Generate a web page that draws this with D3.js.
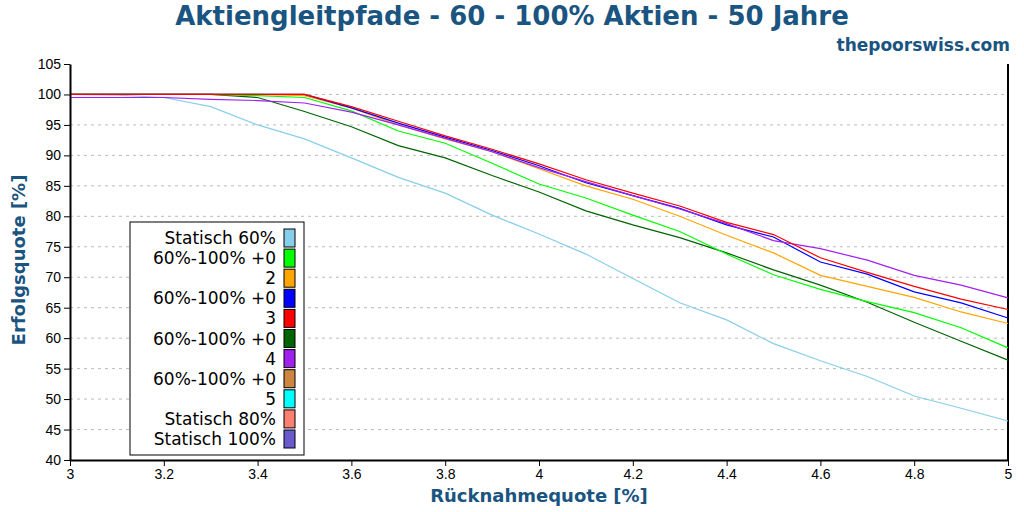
<!DOCTYPE html><html><head><meta charset="utf-8"><script src="https://cdn.jsdelivr.net/npm/d3@7"></script>
<style>body{margin:0;background:#fff}svg{font-family:"DejaVu Sans",sans-serif}</style></head><body><svg id="c" width="1024" height="512"></svg><script>
const xs=[3.0,3.1,3.2,3.3,3.4,3.5,3.6,3.7,3.8,3.9,4.0,4.1,4.2,4.3,4.4,4.5,4.6,4.7,4.8,4.9,5.0];
const s60=[100,99.9,99.5,98,95,92.7,89.6,86.4,83.8,80.2,77.1,73.8,69.8,65.8,63,59.1,56.3,53.7,50.5,48.5,46.4];
const sGreen=[100,100,100,100,99.8,99.5,97.3,94,92,88.7,85.3,83,80.2,77.5,73.8,70.4,68,66,64.2,61.7,58.4];
const sOrange=[100,100,100,100,100,99.8,97.8,95,92.7,90.6,87.8,85,82.8,80,76.9,74,70.3,68.5,66.7,64.3,62.4];
const sBlue=[100,100,100,100,100,100,97.8,95.3,93,90.8,88.3,85.5,83.4,81.3,78.6,76.6,72.5,70.5,67.6,65.8,63.3];
const sRed=[100,100,100,100,100,100,98,95.6,93.2,91,88.6,86,83.8,81.7,79,77,73.2,70.8,68.5,66.4,64.7];
const sDark=[100,100,100,100,99.5,97.2,94.7,91.6,89.6,86.7,84,80.9,78.6,76.5,74,71.2,68.7,65.9,62.6,59.5,56.4];
const sPurple=[99.5,99.5,99.5,99.2,99,98.6,97.1,95,92.8,90.6,88,85.7,83.4,81.2,78.8,76,74.7,72.8,70.3,68.7,66.6];
const lines=[[s60,"#87ceeb"],[sDark,"#006400"],[sGreen,"#00ff00"],[sOrange,"#ffa500"],[sBlue,"#0000ff"],[sPurple,"#a020f0"],[sRed,"#ff0000"]];
const legendLabels=["Statisch 60%","60%-100% +0","2","60%-100% +0","3","60%-100% +0","4","60%-100% +0","5","Statisch 80%","Statisch 100%"];
const legendColors=["#87ceeb","#00ff00","#ffa500","#0000ff","#ff0000","#006400","#a020f0","#cd853f","#00ffff","#fa8072","#6a5acd"];
const xTicks=[3,3.2,3.4,3.6,3.8,4,4.2,4.4,4.6,4.8,5];
const yTicks=d3.range(40,106,5);
const svg=d3.select("#c");
const x=d3.scaleLinear().domain([3,5]).range([70,1008]);
const y=d3.scaleLinear().domain([40,105]).range([460,64]);
const blue="#1a5480";
svg.append("text").attr("x",512).attr("y",25).attr("text-anchor","middle").attr("font-size",26).attr("font-weight","bold").attr("fill",blue).text("Aktiengleitpfade - 60 - 100% Aktien - 50 Jahre");
svg.append("text").attr("x",1010).attr("y",51).attr("text-anchor","end").attr("font-size",17).attr("font-weight","bold").attr("fill",blue).text("thepoorswiss.com");
const g=svg.append("g");
yTicks.forEach(t=>{if(t>40&&t<105)g.append("line").attr("x1",70).attr("x2",1008).attr("y1",y(t)).attr("y2",y(t)).attr("stroke","#bbb").attr("stroke-dasharray","3,4");});
g.append("line").attr("x1",1008).attr("x2",1008).attr("y1",64).attr("y2",460).attr("stroke","#000").attr("stroke-width",2);
const line=d3.line().x((d,i)=>x(xs[i])).y(d=>y(d));
lines.forEach(([d,c])=>svg.append("path").attr("d",line(d)).attr("fill","none").attr("stroke",c).attr("stroke-width",1.2));
svg.append("g").attr("transform","translate(0,460)").call(d3.axisBottom(x).tickValues(xTicks).tickFormat(d3.format("~g")).tickSizeOuter(0)).call(a=>a.selectAll("text").attr("font-size",14).attr("fill","#000")).call(a=>a.select(".domain").attr("stroke-width",2));
svg.append("g").attr("transform","translate(70,0)").call(d3.axisLeft(y).tickValues(yTicks).tickSizeOuter(0)).call(a=>a.selectAll("text").attr("font-size",14).attr("fill","#000")).call(a=>a.select(".domain").attr("stroke-width",2));
svg.append("text").attr("x",539).attr("y",502).attr("text-anchor","middle").attr("font-size",18).attr("font-weight","bold").attr("fill",blue).text("Rücknahmequote [%]");
svg.append("text").attr("transform","translate(25,260) rotate(-90)").attr("text-anchor","middle").attr("font-size",18).attr("font-weight","bold").attr("fill",blue).text("Erfolgsquote [%]");
const lg=svg.append("g");
lg.append("rect").attr("x",130).attr("y",222).attr("width",174).attr("height",233).attr("fill","#fff").attr("stroke","#000");
legendLabels.forEach((l,i)=>{const yy=238+i*20.1;
lg.append("text").attr("x",276).attr("y",yy+6).attr("text-anchor","end").attr("font-size",17).text(l);
lg.append("rect").attr("x",284).attr("y",yy-9).attr("width",11).attr("height",18).attr("fill",legendColors[i]).attr("stroke","#000");});
</script></body></html>
